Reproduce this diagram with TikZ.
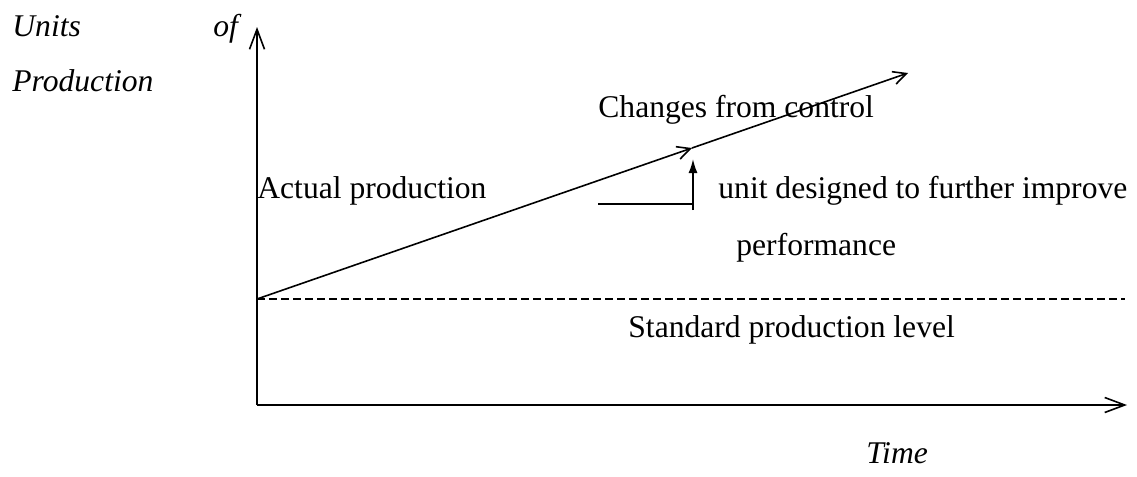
\documentclass[tikz,border=0pt]{standalone}
\usepackage{fontspec}
\setmainfont{Liberation Serif}
\usetikzlibrary{arrows.meta}
\begin{document}
\begin{tikzpicture}[x=0.5pt,y=-0.5pt,
  lbl/.style={anchor=base west,inner sep=0pt,font=\fontsize{15.8}{19}\selectfont},
  axis/.style={line width=1pt,-{Straight Barb[length=10pt,width=7.5pt,line width=0.8pt]}},
  trend/.style={line width=0.8pt,-{Straight Barb[length=6.5pt,width=6.5pt,line width=0.8pt]}},
  upar/.style={line width=0.8pt,-{Latex[length=7pt,width=4.5pt]}}]
\useasboundingbox (0,0) rectangle (1137,477);
% coordinates
\coordinate (o) at (257,405);
\coordinate (ytop) at (257,27);
\coordinate (xend) at (1127,405);
\coordinate (start) at (257,299);
\coordinate (mid) at (692,148);
\coordinate (lend) at (908,73);
\coordinate (dend) at (1125,299);
\coordinate (hs) at (598,204);
\coordinate (ub) at (693,210);
\coordinate (ut) at (693,159);
% axes
\draw[axis] (o) -- (ytop);
\draw[axis] (o) -- (xend);
% standard level
\draw[line width=0.8pt,dash pattern=on 4pt off 2pt] (start) -- (dend);
% actual production line
\draw[trend] (start) -- (mid);
\draw[trend] (mid) -- (lend);
% improvement marker
\draw[line width=0.8pt] (hs) -- (ub |- hs);
\draw[upar] (ub) -- (ut);
% labels
\node[lbl] (units) at (12,36) {\itshape Units};
\node[lbl] (of) at (213,36) {\itshape of};
\node[lbl] (prod) at (12,91) {\itshape Production};
\node[lbl] (chg) at (598,117) {Changes from control};
\node[lbl] (act) at (257,198) {Actual production};
\node[lbl] (unit) at (718,198) {unit designed to further improve};
\node[lbl] (perf) at (736,255) {performance};
\node[lbl] (std) at (628,337) {Standard production level};
\node[lbl] (time) at (866,463) {\itshape Time};
\end{tikzpicture}
\end{document}
